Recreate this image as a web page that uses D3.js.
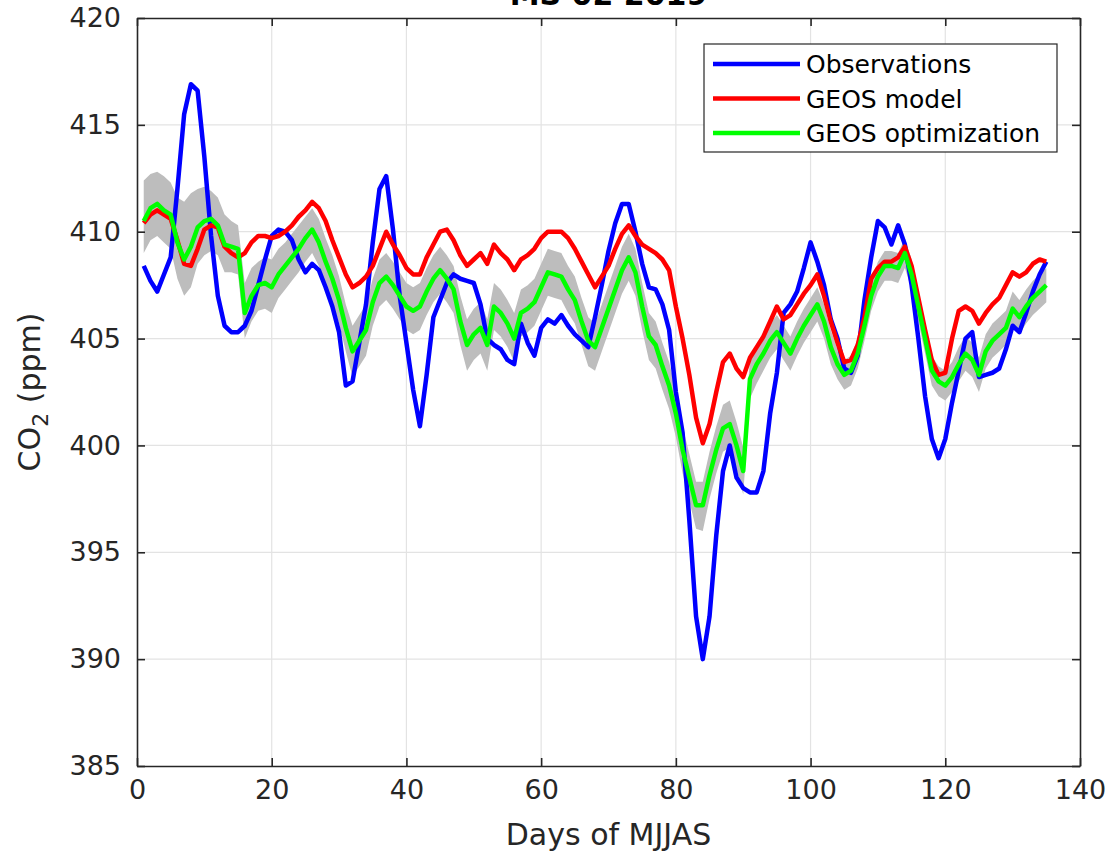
<!DOCTYPE html>
<html>
<head>
<meta charset="utf-8">
<script src="https://cdn.jsdelivr.net/npm/d3@7/dist/d3.min.js"></script>
<style>
    body { margin: 0; background: #fff; }
    svg { display: block; font-family: "DejaVu Sans", sans-serif; }
</style>
</head>
<body>
<svg id="chart" width="1114" height="861"></svg>
<script>
// daily CO2 (ppm), days 1..135 of May-Sep
var days = d3.range(1, 136);

var observations = [
    408.4, 407.7, 407.2, 408.0, 408.8, 412.0, 415.5, 416.9, 416.6, 413.5,
    409.8, 407.0, 405.6, 405.3, 405.3, 405.6, 406.3, 407.5, 408.7, 409.8,
    410.1, 410.0, 409.6, 408.7, 408.1, 408.5, 408.2, 407.4, 406.5, 405.3,
    402.8, 403.0, 404.8, 406.6, 409.5, 412.0, 412.6, 410.1, 407.0, 404.8,
    402.6, 400.9, 403.3, 406.0, 406.8, 407.6, 408.0, 407.8, 407.7, 407.6,
    406.6, 405.0, 404.7, 404.5, 404.0, 403.8, 405.7, 404.8, 404.2, 405.5,
    405.9, 405.7, 406.1, 405.6, 405.2, 404.9, 404.6, 406.0, 407.5, 409.1,
    410.4, 411.3, 411.3, 410.0, 408.5, 407.4, 407.3, 406.6, 405.4, 402.5,
    400.6, 396.5, 392.0, 390.0, 392.0, 395.8, 398.8, 400.0, 398.5, 398.0,
    397.8, 397.8, 398.8, 401.5, 403.4, 406.2, 406.6, 407.2, 408.3, 409.5,
    408.6, 407.5, 405.9, 405.0, 403.6, 403.4, 404.2, 406.8, 408.8, 410.5,
    410.2, 409.4, 410.3, 409.4, 407.5, 405.0, 402.3, 400.3, 399.4, 400.3,
    402.0, 403.5, 405.0, 405.3, 403.2, 403.3, 403.4, 403.6, 404.5, 405.6,
    405.3, 406.2, 407.2, 408.0, 408.6
];

var geosModel = [
    410.4, 410.8, 411.0, 410.8, 410.6, 409.6, 408.5, 408.4, 409.2, 410.1,
    410.3, 410.2, 409.3, 409.0, 408.8, 409.0, 409.5, 409.8, 409.8, 409.7,
    409.8, 410.0, 410.3, 410.7, 411.0, 411.4, 411.1, 410.5, 409.6, 408.8,
    408.0, 407.4, 407.6, 407.9, 408.4, 409.2, 410.0, 409.4, 408.9, 408.3,
    408.0, 408.0, 408.8, 409.4, 410.0, 410.1, 409.6, 408.9, 408.4, 408.7,
    409.0, 408.5, 409.4, 409.0, 408.7, 408.2, 408.7, 408.9, 409.2, 409.7,
    410.0, 410.0, 410.0, 409.7, 409.2, 408.6, 408.0, 407.4, 407.9, 408.4,
    409.2, 409.9, 410.3, 409.8, 409.4, 409.2, 409.0, 408.7, 408.2, 406.5,
    405.0, 403.3, 401.3, 400.1, 401.0, 402.5, 403.9, 404.3, 403.6, 403.2,
    404.1, 404.6, 405.1, 405.8, 406.5, 405.9, 406.1, 406.6, 407.1, 407.5,
    408.0, 407.0, 405.8, 404.8, 403.9, 404.0, 404.7, 406.0, 407.8, 408.3,
    408.6, 408.6, 408.8, 409.3, 408.4, 406.9, 405.4, 404.0, 403.3, 403.4,
    405.0, 406.3, 406.5, 406.3, 405.7, 406.2, 406.6, 406.9, 407.5, 408.1,
    407.9, 408.1, 408.5, 408.7, 408.6
];

var geosOptimization = [
    410.5, 411.1, 411.3, 411.0, 410.8, 409.5, 408.7, 409.3, 410.2, 410.5,
    410.6, 410.3, 409.4, 409.3, 409.2, 406.2, 407.0, 407.5, 407.6, 407.4,
    408.0, 408.4, 408.8, 409.2, 409.7, 410.1, 409.5, 408.6, 407.8, 406.8,
    405.5, 404.4, 404.9, 405.4, 406.7, 407.6, 407.9, 407.5, 407.0, 406.5,
    406.3, 406.5, 407.2, 407.8, 408.2, 407.8, 407.3, 405.8, 404.7, 405.2,
    405.5, 404.7, 406.5, 406.2, 405.7, 405.0, 406.2, 406.4, 406.7, 407.4,
    408.1, 408.0, 407.9, 407.3, 406.8, 405.8, 404.9, 404.6, 405.5, 406.4,
    407.3, 408.2, 408.8, 408.1, 406.5, 405.1, 404.7, 403.7, 402.8, 401.5,
    399.8, 398.5, 397.2, 397.2, 398.6, 399.8, 400.8, 401.0, 400.0, 398.8,
    403.1, 403.8, 404.3, 404.9, 405.3, 404.8, 404.3, 405.0, 405.6, 406.1,
    406.6, 405.8, 404.6, 403.8, 403.3, 403.5, 404.3, 405.6, 407.0, 407.9,
    408.4, 408.4, 408.3, 409.0, 408.0, 406.5, 405.0, 403.5, 403.0, 402.8,
    403.2, 403.8, 404.3, 404.0, 403.3, 404.4, 404.9, 405.2, 405.5, 406.4,
    406.0, 406.5, 406.9, 407.2, 407.5
];

// ensemble spread (grey band), upper and lower edge
var ensembleHigh = [
    412.4, 412.7, 412.8, 412.6, 412.3, 411.6, 411.4, 411.8, 412.0, 412.1,
    411.9, 411.6, 410.8, 410.5, 410.3, 407.6, 408.3, 408.6, 408.8, 408.7,
    409.2, 409.5, 409.9, 410.3, 410.7, 411.1, 410.6, 409.7, 408.9, 407.9,
    406.6, 405.6, 406.1, 406.6, 407.8, 408.7, 409.0, 408.6, 408.1, 407.6,
    407.4, 407.6, 408.3, 408.9, 409.3, 408.9, 408.4, 407.0, 405.9, 406.4,
    406.7, 405.9, 407.6, 407.3, 406.8, 406.2, 407.3, 407.5, 407.8, 408.5,
    409.2, 409.1, 409.0, 408.4, 407.9, 406.9, 406.0, 405.7, 406.6, 407.5,
    408.4, 409.3, 409.9, 409.2, 407.6, 406.2, 405.8, 404.8, 403.9, 402.6,
    400.9, 399.6, 398.3, 398.3, 399.7, 400.9, 401.9, 402.1, 401.1, 399.9,
    404.0, 404.7, 405.1, 405.7, 406.1, 405.6, 405.1, 405.8, 406.4, 406.9,
    407.4, 406.6, 405.4, 404.5, 404.0, 404.2, 405.0, 406.3, 407.7, 408.6,
    409.1, 409.1, 409.0, 409.7, 408.7, 407.2, 405.7, 404.2, 403.7, 403.5,
    403.9, 404.6, 405.1, 404.8, 404.1, 405.2, 405.7, 406.0, 406.3, 407.2,
    406.8, 407.3, 407.7, 408.0, 408.3
];

var ensembleLow = [
    409.0, 409.6, 409.8, 409.5, 409.2, 407.8, 407.0, 407.4, 408.5, 408.9,
    409.1, 408.9, 408.1, 408.1, 408.0, 405.0, 405.8, 406.3, 406.4, 406.2,
    406.9, 407.3, 407.7, 408.1, 408.6, 409.0, 408.4, 407.5, 406.7, 405.7,
    404.4, 403.2, 403.7, 404.2, 405.6, 406.5, 406.8, 406.4, 405.9, 405.4,
    405.2, 405.4, 406.1, 406.7, 407.1, 406.7, 406.2, 404.7, 403.5, 404.0,
    404.3, 403.5, 405.4, 405.1, 404.6, 403.9, 405.1, 405.3, 405.6, 406.3,
    407.0, 406.9, 406.8, 406.2, 405.7, 404.7, 403.7, 403.5, 404.4, 405.3,
    406.2, 407.1, 407.7, 407.0, 405.4, 404.0, 403.6, 402.6, 401.7, 400.4,
    398.7, 397.4, 396.1, 396.0, 397.5, 398.7, 399.7, 399.9, 398.9, 397.7,
    402.2, 402.9, 403.5, 404.1, 404.5, 404.0, 403.5, 404.2, 404.8, 405.3,
    405.8, 405.0, 403.8, 403.1, 402.6, 402.8, 403.6, 404.9, 406.3, 407.2,
    407.7, 407.7, 407.6, 408.3, 407.3, 405.8, 404.3, 402.8, 402.3, 402.1,
    402.5, 403.0, 403.5, 403.2, 402.5, 403.6, 404.1, 404.4, 404.7, 405.6,
    405.2, 405.7, 406.1, 406.4, 406.7
];

var xTicks = [0, 20, 40, 60, 80, 100, 120, 140];
var yTicks = [385, 390, 395, 400, 405, 410, 415, 420];

var seriesNames  = ['Observations', 'GEOS model', 'GEOS optimization'];
var seriesColors = ['#0000ff', '#ff0000', '#00ff00'];
var seriesValues = [observations, geosModel, geosOptimization];

var margin = { left: 137, top: 18, right: 34, bottom: 95 };
var svg    = d3.select('#chart');
var width  = +svg.attr('width') - margin.left - margin.right;
var height = +svg.attr('height') - margin.top - margin.bottom;
var ink    = '#262626';

var x = d3.scaleLinear().domain([0, 140]).range([0, width]);
var y = d3.scaleLinear().domain([385, 420]).range([height, 0]);

var plot = svg.append('g')
    .attr('transform', `translate(${ margin.left }, ${ margin.top })`)
;

// grid
plot.append('g')
    .selectAll('line.gx')
    .data(xTicks.slice(1, -1))
    .join('line')
    .attr('x1', d => x(d)).attr('x2', d => x(d))
    .attr('y1', 0).attr('y2', height)
    .attr('stroke', '#e3e3e3')
    .attr('stroke-width', 1.2)
;
plot.append('g')
    .selectAll('line.gy')
    .data(yTicks.slice(1, -1))
    .join('line')
    .attr('x1', 0).attr('x2', width)
    .attr('y1', d => y(d)).attr('y2', d => y(d))
    .attr('stroke', '#e3e3e3')
    .attr('stroke-width', 1.2)
;

// ensemble band
var band = d3.area()
    .x((d, i) => x(days[i]))
    .y0((d, i) => y(ensembleLow[i]))
    .y1(d => y(d))
;
plot.append('path')
    .datum(ensembleHigh)
    .attr('d', band)
    .attr('fill', '#bdbdbd')
;

// series lines
var line = d3.line()
    .x((d, i) => x(days[i]))
    .y(d => y(d))
;
plot.selectAll('path.series')
    .data(seriesValues)
    .join('path')
    .attr('class', 'series')
    .attr('d', line)
    .attr('fill', 'none')
    .attr('stroke', (d, i) => seriesColors[i])
    .attr('stroke-width', 4.5)
    .attr('stroke-linejoin', 'round')
;

// axes, MATLAB box with inward ticks on all sides
var tickLen = 8;
var axisBottom = d3.axisBottom(x).tickValues(xTicks).tickSizeInner(-tickLen).tickSizeOuter(0).tickPadding(14);
var axisTop    = d3.axisTop(x).tickValues(xTicks).tickSizeInner(-tickLen).tickSizeOuter(0).tickFormat('');
var axisLeft   = d3.axisLeft(y).tickValues(yTicks).tickSizeInner(-tickLen).tickSizeOuter(0).tickPadding(16);
var axisRight  = d3.axisRight(y).tickValues(yTicks).tickSizeInner(-tickLen).tickSizeOuter(0).tickFormat('');

function styleAxis(g) {
    g.select('.domain').attr('stroke', ink).attr('stroke-width', 1.6);
    g.selectAll('.tick line').attr('stroke', ink).attr('stroke-width', 1.6);
    g.selectAll('.tick text')
        .attr('fill', ink)
        .style('font-family', '"DejaVu Sans", sans-serif')
        .style('font-size', '27px')
    ;
}

plot.append('g').attr('transform', `translate(0, ${ height })`).call(axisBottom).call(styleAxis);
plot.append('g').call(axisTop).call(styleAxis);
plot.append('g').call(axisLeft).call(styleAxis);
plot.append('g').attr('transform', `translate(${ width }, 0)`).call(axisRight).call(styleAxis);

// labels (title sits above the frame and is clipped, as in the original figure)
svg.append('text')
    .attr('x', margin.left + width / 2)
    .attr('y', 5)
    .attr('text-anchor', 'middle')
    .attr('fill', '#000')
    .style('font-size', '30px')
    .style('font-weight', 'bold')
    .text('MS 02 2019')
;

svg.append('text')
    .attr('x', margin.left + width / 2)
    .attr('y', 845)
    .attr('text-anchor', 'middle')
    .attr('fill', ink)
    .style('font-size', '30px')
    .text('Days of MJJAS')
;

var yLabel = svg.append('text')
    .attr('transform', `translate(40, ${ margin.top + height / 2 }) rotate(-90)`)
    .attr('text-anchor', 'middle')
    .attr('fill', ink)
    .style('font-size', '30px')
;
yLabel.append('tspan').text('CO');
yLabel.append('tspan').attr('dy', 8).style('font-size', '22px').text('2');
yLabel.append('tspan').attr('dy', -8).text(' (ppm)');

// legend
var legend = svg.append('g')
    .attr('transform', 'translate(704, 44)')
;
legend.append('rect')
    .attr('width', 353)
    .attr('height', 108)
    .attr('fill', '#fff')
    .attr('stroke', ink)
    .attr('stroke-width', 1.2)
;
var items = legend.selectAll('g.item')
    .data(seriesNames)
    .join('g')
    .attr('class', 'item')
    .attr('transform', (d, i) => `translate(0, ${ 20 + i * 34.5 })`)
;
items.append('line')
    .attr('x1', 9).attr('x2', 96)
    .attr('stroke', (d, i) => seriesColors[i])
    .attr('stroke-width', 4.5)
;
items.append('text')
    .attr('x', 102)
    .attr('y', 9)
    .attr('fill', '#000')
    .style('font-size', '25px')
    .text(d => d)
;
</script>
</body>
</html>
